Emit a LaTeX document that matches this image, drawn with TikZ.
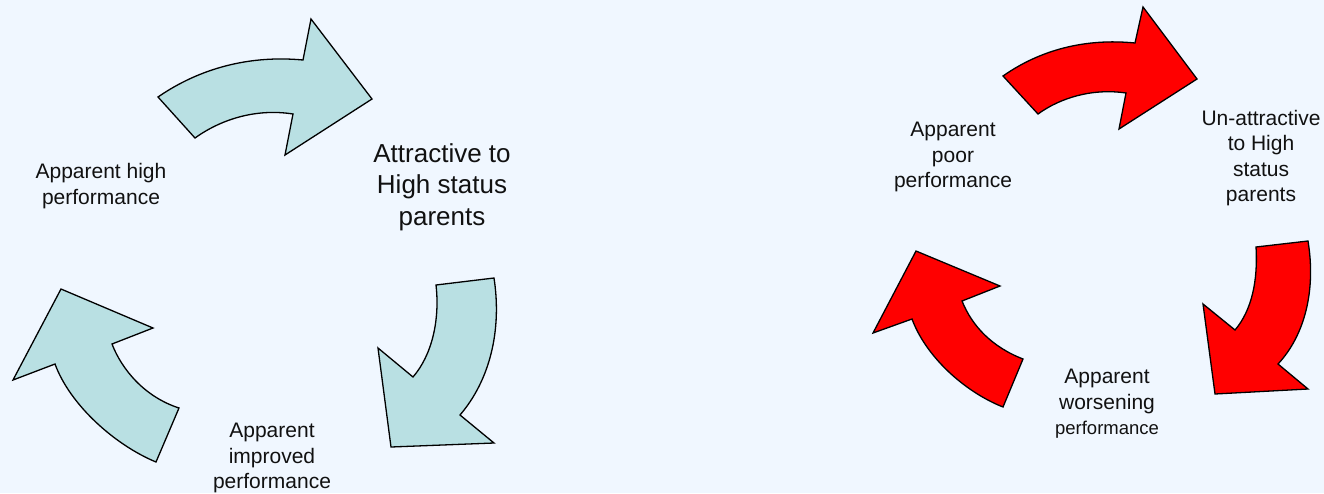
\documentclass[tikz,border=0pt]{standalone}
\usepackage{fontspec}
\setmainfont{Liberation Sans}
\usepackage{xcolor}
\definecolor{cycbg}{HTML}{F0F7FF}
\definecolor{cycteal}{HTML}{B9E0E3}
\definecolor{cycred}{HTML}{FF0000}
\definecolor{cycdark}{HTML}{111111}
\usetikzlibrary{positioning}

\tikzset{
  cycarrow/.style={draw=black, line width=1.3pt, line join=miter},
  goodarrow/.style={cycarrow, fill=cycteal},
  badarrow/.style={cycarrow, fill=cycred},
  cyclabel/.style={align=center, text=cycdark, font=\fontsize{21}{25.5}\selectfont}
}

\begin{document}
\begin{tikzpicture}[x=1pt, y=-1pt]

  %% Background
  \fill[cycbg] (0,0) rectangle (1324,493);
  \useasboundingbox (0,0) rectangle (1324,493);

  %% Virtuous cycle: arrows
  \draw[goodarrow] (158,97) .. controls (200,68) and (250,55) .. (303,60)
    -- (311,19) -- (372,99) -- (285,155) -- (293,114)
    .. controls (255,108) and (220,120) .. (195,138) -- cycle;
  \draw[goodarrow] (494,278) .. controls (502,330) and (490,380) .. (460,415)
    -- (494,443) -- (391,447) -- (378,348) -- (413,377)
    .. controls (432,355) and (440,320) .. (436,285) -- cycle;
  \draw[goodarrow] (156,462) .. controls (115,445) and (70,405) .. (55,364)
    -- (13,380) -- (61,289) -- (153,328) -- (112,344)
    .. controls (122,370) and (145,397) .. (179,408) -- cycle;

  %% Virtuous cycle: labels
  \node[cyclabel] (highperf) at (101,186) {Apparent high\\performance};
  \node[cyclabel, font=\fontsize{26}{31.5}\selectfont]
    (attract) at (442,187) {Attractive to\\High status\\parents};
  \node[cyclabel] (improved) at (272,458) {Apparent\\improved\\performance};

  %% Vicious cycle: arrows
  \draw[badarrow] (1003,76) .. controls (1040,50) and (1085,38) .. (1135,43)
    -- (1143,7) -- (1197,79) -- (1119,129) -- (1126,93)
    .. controls (1092,88) and (1060,98) .. (1038,114) -- cycle;
  \draw[badarrow] (1308,241) .. controls (1316,290) and (1305,335) .. (1278,364)
    -- (1308,389) -- (1215,394) -- (1203,304) -- (1235,330)
    .. controls (1252,310) and (1258,280) .. (1256,247) -- cycle;
  \draw[badarrow] (1003,407) .. controls (965,392) and (926,357) .. (912,319)
    -- (873,333) -- (916,251) -- (1000,286) -- (962,301)
    .. controls (972,326) and (992,347) .. (1023,359) -- cycle;

  %% Vicious cycle: labels
  \node[cyclabel] (poorperf) at (953,157) {Apparent\\poor\\performance};
  \node[cyclabel] (unattract) at (1261,158)
    {Un-attractive\\to High\\status\\parents};
  \node[cyclabel] (worsening) at (1107,404)
    {Apparent\\worsening\\{\fontsize{18.5}{24}\selectfont performance}};

\end{tikzpicture}
\end{document}
